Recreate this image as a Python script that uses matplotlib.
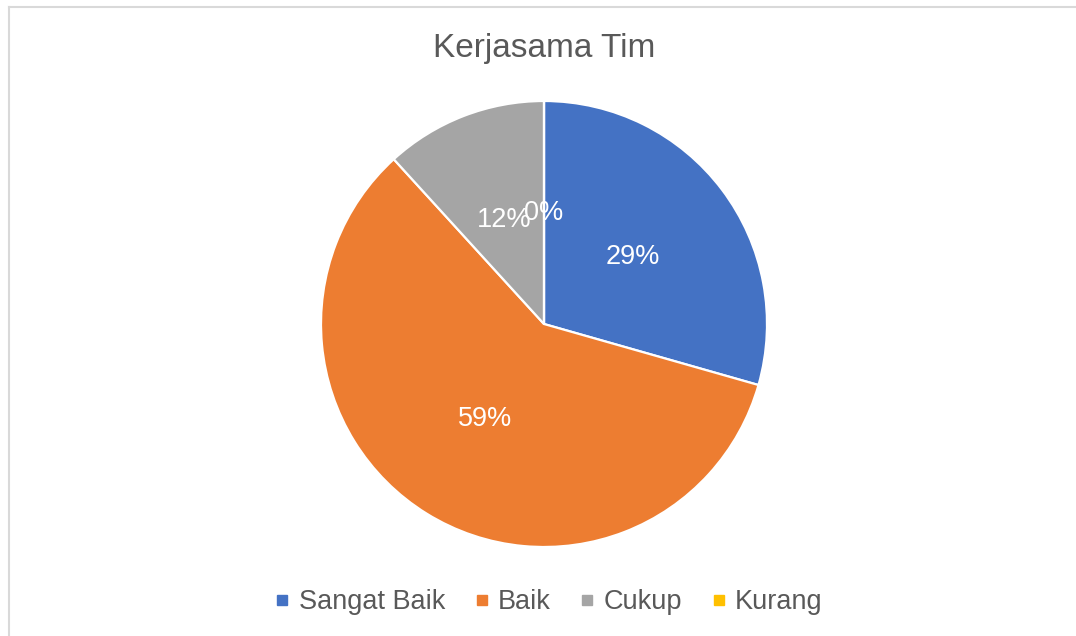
import matplotlib.pyplot as plt
from matplotlib.lines import Line2D

plt.rcParams['font.family'] = ['Liberation Sans', 'DejaVu Sans']

# data
categories = ['Sangat Baik', 'Baik', 'Cukup', 'Kurang']
counts = [10, 20, 4, 0]
colors = ['#4472C4', '#ED7D31', '#A5A5A5', '#FFC000']

W, H = 1076, 636
fig = plt.figure(figsize=(W / 100, H / 100), dpi=100)

# chart border (only top and left edges visible in the crop)
bx, by = 8.5 / W, 1 - 6.5 / H
fig.add_artist(Line2D([bx, 1.05], [by, by], transform=fig.transFigure,
                      color='#D9D9D9', linewidth=1.5))
fig.add_artist(Line2D([bx, bx], [-0.05, by], transform=fig.transFigure,
                      color='#D9D9D9', linewidth=1.5))

# pie axes: center (544, 324), radius 223 px
cx, cy, r = 544, 324, 223
ax = fig.add_axes([(cx - r) / W, (H - cy - r) / H, 2 * r / W, 2 * r / H])
wedges, texts, autotexts = ax.pie(
    counts, colors=colors, startangle=90, counterclock=False,
    autopct='%1.0f%%', pctdistance=0.5, radius=1,
    wedgeprops=dict(edgecolor='white', linewidth=1.6),
    textprops=dict(color='white', fontsize=19.5))
ax.set_xlim(-1, 1)
ax.set_ylim(-1, 1)
ax.set_aspect('equal')
ax.axis('off')

fig.text(cx / W, 1 - 48 / H, 'Kerjasama Tim', ha='center', va='center',
         fontsize=24, color='#595959')

handles = [Line2D([], [], marker='s', linestyle='none', markersize=6.5,
                  markerfacecolor=c, markeredgecolor=c) for c in colors]
fig.legend(handles, categories, loc='center', bbox_to_anchor=(549 / W, 1 - 602 / H),
           ncol=4, frameon=False, fontsize=19.5, labelcolor='#595959',
           handlelength=0.5, handletextpad=0.35, columnspacing=1.1,
           borderaxespad=0, borderpad=0)

fig.savefig('out.png', dpi=100)
